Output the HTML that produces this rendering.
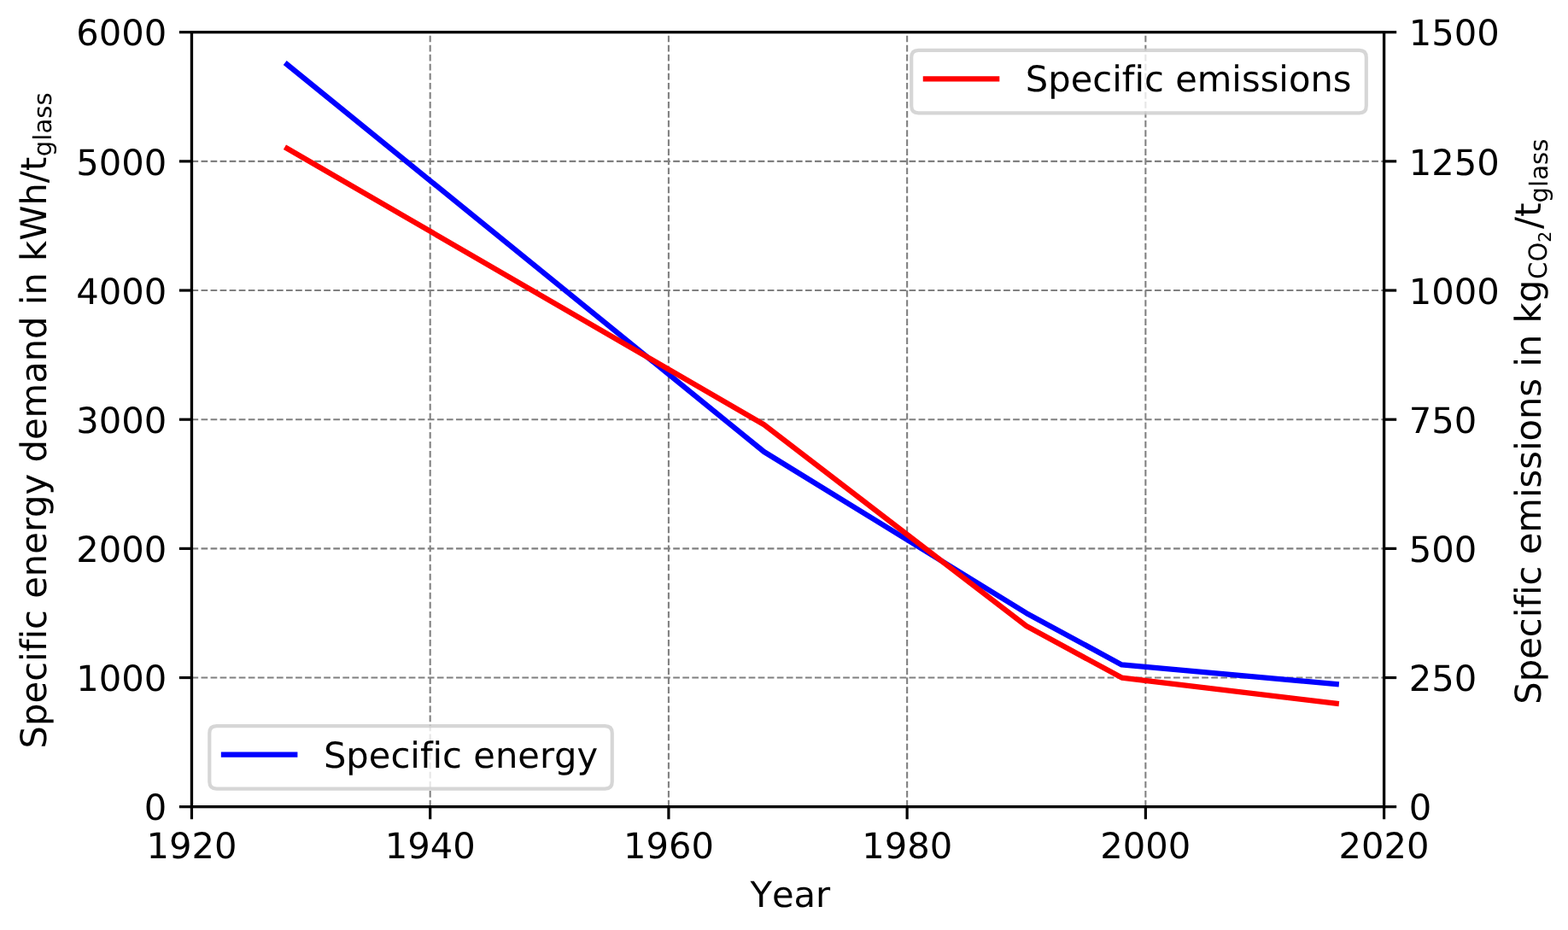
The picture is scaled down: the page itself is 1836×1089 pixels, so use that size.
<!DOCTYPE html>
<html lang="en">
<head>
<meta charset="utf-8">
<title>Specific energy demand and specific emissions of glass production</title>
<style>
html,body{margin:0;padding:0;background:#fff;overflow:hidden}
svg{display:block}
text{font-family:"DejaVu Sans","Liberation Sans",sans-serif;font-size:41.67px;fill:#000;text-rendering:geometricPrecision;font-kerning:none;font-variant-ligatures:none;font-feature-settings:"liga" 0,"kern" 0,"clig" 0}
.sub{font-size:29.17px}
.sub2{font-size:20.42px}
</style>
</head>
<body>
<svg width="1836" height="1089" viewBox="0 0 1836 1089">
<rect x="0" y="0" width="1836" height="1089" fill="#fff"/>
<defs><clipPath id="ax"><rect x="224.45" y="37.7" width="1396.15" height="907"/></clipPath></defs>
<g fill="none" stroke="#808080" stroke-width="2.08" stroke-dasharray="7.7168 3.337" clip-path="url(#ax)">
<path d="M224.45 944.7V37.7"/>
<path d="M503.68 944.7V37.7"/>
<path d="M782.91 944.7V37.7"/>
<path d="M1062.14 944.7V37.7"/>
<path d="M1341.37 944.7V37.7"/>
<path d="M1620.6 944.7V37.7"/>
<path d="M224.45 944.7H1620.6"/>
<path d="M224.45 793.53H1620.6"/>
<path d="M224.45 642.37H1620.6"/>
<path d="M224.45 491.2H1620.6"/>
<path d="M224.45 340.03H1620.6"/>
<path d="M224.45 188.87H1620.6"/>
<path d="M224.45 37.7H1620.6"/>
</g>
<g stroke="#000" stroke-width="3.2" fill="none">
<path d="M224.45 944.7v14.58"/>
<path d="M503.68 944.7v14.58"/>
<path d="M782.91 944.7v14.58"/>
<path d="M1062.14 944.7v14.58"/>
<path d="M1341.37 944.7v14.58"/>
<path d="M1620.6 944.7v14.58"/>
<path d="M224.45 944.7h-14.58"/>
<path d="M224.45 793.53h-14.58"/>
<path d="M224.45 642.37h-14.58"/>
<path d="M224.45 491.2h-14.58"/>
<path d="M224.45 340.03h-14.58"/>
<path d="M224.45 188.87h-14.58"/>
<path d="M224.45 37.7h-14.58"/>
<path d="M1620.6 944.7h14.58"/>
<path d="M1620.6 793.53h14.58"/>
<path d="M1620.6 642.37h14.58"/>
<path d="M1620.6 491.2h14.58"/>
<path d="M1620.6 340.03h14.58"/>
<path d="M1620.6 188.87h14.58"/>
<path d="M1620.6 37.7h14.58"/>
</g>
<path d="M336.14 75.49 L894.6 528.99 L1201.75 717.95 L1313.45 778.42 L1564.75 801.09" fill="none" stroke="#0000ff" stroke-width="6.25" stroke-linecap="square" stroke-linejoin="round" clip-path="url(#ax)"/>
<path d="M253.61 850.1H708.45Q716.78 850.1 716.78 858.43V915.37Q716.78 923.7 708.45 923.7H253.61Q245.28 923.7 245.28 915.37V858.43Q245.28 850.1 253.61 850.1Z" fill="#fff" fill-opacity="0.8" stroke="#cccccc" stroke-opacity="0.8" stroke-width="4.17" stroke-linejoin="miter"/>
<path d="M261.95 883.6H345.28" fill="none" stroke="#0000ff" stroke-width="6.25" stroke-linecap="square"/>
<text x="378.9" y="898.6">Specific energy</text>
<path d="M336.14 173.75 L894.6 497.25 L1201.75 733.07 L1313.45 793.53 L1564.75 823.77" fill="none" stroke="#ff0000" stroke-width="6.25" stroke-linecap="square" stroke-linejoin="round" clip-path="url(#ax)"/>
<rect x="224.45" y="37.68" width="1396.15" height="907" fill="none" stroke="#000" stroke-width="3.33" stroke-linejoin="miter"/>
<path d="M1075.53 58.95H1591.47Q1599.8 58.95 1599.8 67.28V124.07Q1599.8 132.4 1591.47 132.4H1075.53Q1067.2 132.4 1067.2 124.07V67.28Q1067.2 58.95 1075.53 58.95Z" fill="#fff" fill-opacity="0.8" stroke="#cccccc" stroke-opacity="0.8" stroke-width="4.17" stroke-linejoin="miter"/>
<path d="M1083.87 92.4H1167.2" fill="none" stroke="#ff0000" stroke-width="6.25" stroke-linecap="square"/>
<text x="1200.8" y="106.65">Specific emissions</text>
<g text-anchor="middle">
<text x="224.45" y="1005.33">1920</text>
<text x="503.68" y="1005.33">1940</text>
<text x="782.91" y="1005.33">1960</text>
<text x="1062.14" y="1005.33">1980</text>
<text x="1341.37" y="1005.33">2000</text>
<text x="1620.6" y="1005.33">2020</text>
</g>
<text x="878.5" y="1062">Year</text>
<g text-anchor="end">
<text x="195.28" y="960.33">0</text>
<text x="195.28" y="809.16">1000</text>
<text x="195.28" y="658">2000</text>
<text x="195.28" y="506.83">3000</text>
<text x="195.28" y="355.66">4000</text>
<text x="195.28" y="204.5">5000</text>
<text x="195.28" y="53.33">6000</text>
</g>
<g text-anchor="start">
<text x="1649.77" y="960.33">0</text>
<text x="1649.77" y="809.16">250</text>
<text x="1649.77" y="658">500</text>
<text x="1649.77" y="506.83">750</text>
<text x="1649.77" y="355.66">1000</text>
<text x="1649.77" y="204.5">1250</text>
<text x="1649.77" y="53.33">1500</text>
</g>
<text transform="rotate(-90)"><tspan x="-876.4" y="53.6" letter-spacing="0.02">Specific energy demand in kWh/t</tspan><tspan class="sub" x="-183.2" y="60.4">glass</tspan></text>
<text transform="rotate(-90)"><tspan x="-824.66" y="1804.1">Specific emissions in kg</tspan><tspan class="sub" x="-326.9" y="1811.4">CO</tspan><tspan class="sub2" x="-283.8" y="1816.1">2</tspan><tspan x="-267.9" y="1804.2">/t</tspan><tspan class="sub" x="-237.4" y="1811.7">glass</tspan></text>
</svg>
</body>
</html>
